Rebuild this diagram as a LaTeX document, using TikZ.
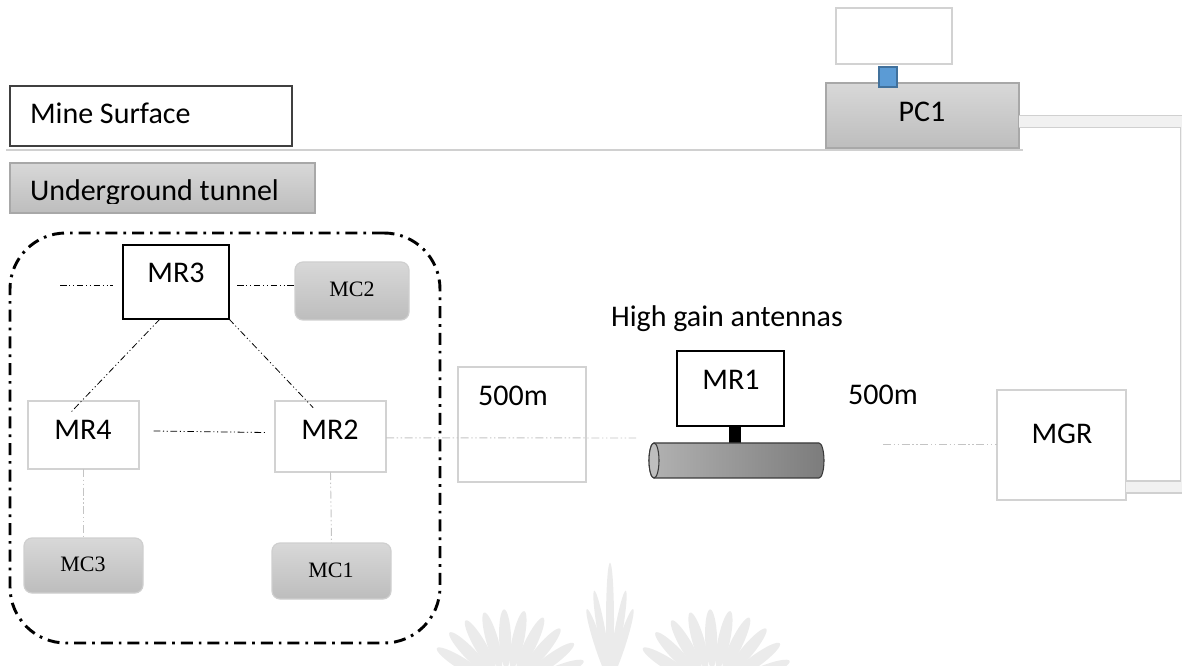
\documentclass[tikz,border=0pt]{standalone}
\usepackage{fontspec}
\setmainfont{Carlito}
\newfontfamily\mcfont{Liberation Serif}
\definecolor{boxgray}{HTML}{D2D2D2}
\definecolor{shadetop}{HTML}{D8D8D8}
\definecolor{shadebot}{HTML}{BDBDBD}
\definecolor{shadeedge}{HTML}{A8A8A8}
\definecolor{mcedge}{HTML}{CFCFCF}
\definecolor{linkgray}{HTML}{C4C4C4}
\definecolor{rulegray}{HTML}{D0D0D0}
\definecolor{pipefill}{HTML}{F1F1F1}
\definecolor{plugfill}{HTML}{5B9BD5}
\definecolor{plugedge}{HTML}{41719C}
\definecolor{tubeleft}{HTML}{B2B2B2}
\definecolor{tuberight}{HTML}{7C7C7C}
\definecolor{tubeedge}{HTML}{3A3A3A}
\definecolor{markgray}{HTML}{EBEBEB}
\begin{document}
\begin{tikzpicture}[x=0.75pt,y=-0.75pt,
  font=\fontsize{22.5}{27}\selectfont,
  every node/.style={outer sep=0pt,inner sep=0pt},
  sz/.style 2 args={minimum width=#1*0.75pt,minimum height=#2*0.75pt},
  lightbox/.style={draw=boxgray,line width=1.5pt,fill=white},
  darkbox/.style={draw=black,line width=1.4pt,fill=white},
  shadebox/.style={draw=shadeedge,line width=0.9pt,top color=shadetop,bottom color=shadebot},
  mcbox/.style={draw=mcedge,line width=0.9pt,top color=shadetop,bottom color=shadebot,rounded corners=6pt},
  lbl/.style={anchor=base},
  mclbl/.style={anchor=base,font=\mcfont\fontsize{16.5}{19}\selectfont},
  link/.style={draw=black,line width=0.6pt,dash pattern=on 5pt off 2pt on 0.8pt off 2pt on 0.8pt off 2pt},
  glink/.style={draw=linkgray,line width=0.7pt,dash pattern=on 6pt off 2pt on 1pt off 2pt on 1pt off 2pt},
  zone/.style={draw=black,line width=2.2pt,dash pattern=on 9pt off 4.5pt on 2pt off 4.5pt,rounded corners=42pt},
  pipe/.style={draw=rulegray,line width=0.9pt,double=pipefill,double distance=8pt}
]
\useasboundingbox (0,0) rectangle (1182,666);

% faint emblem at the foot of the page
\begin{scope}
  \clip (0,0) rectangle (1182,666);
  \foreach \a in {22,36,...,158}
    \fill[markgray,shift={(507,692)},rotate=\a] (40pt,0) ellipse (22pt and 4.5pt);
  \foreach \a in {22,36,...,158}
    \fill[markgray,shift={(713,692)},rotate=\a] (40pt,0) ellipse (22pt and 4.5pt);
  \fill[markgray,shift={(610,680)},rotate=90] (44pt,0) ellipse (44pt and 3pt);
  \foreach \a/\r in {80/34,100/34,72/28,108/28}
    \fill[markgray,shift={(610,680)},rotate=\a] (\r pt,0) ellipse (\r pt and 3pt);
\end{scope}

% surface / underground labels
\node[draw=black!75,line width=0.8pt,fill=white,sz={282}{60}] (surf) at (151,116) {};
\node[lbl,anchor=base west] (surft) at (30,124) {Mine Surface};
\draw[rulegray,line width=0.8pt] (6,150) -- (1023,150);
\node[shadebox,sz={305}{50}] (tunnel) at (162.5,188) {};
\begin{scope}
  \clip (10,163) rectangle (315,203.5);
  \node[lbl,anchor=base west] (tunnelt) at (30,201) {Underground tunnel};
\end{scope}

% control room on the surface
\node[lightbox,sz={116}{56}] (screen) at (894,36) {};
\node[shadebox,sz={193}{65}] (PC1) at (922.5,115.5) {};
\node[lbl] (PC1t) at (922,122) {PC1};
\node[draw=plugedge,line width=1pt,fill=plugfill,sz={18}{20}] (plug) at (888,77) {};

% cable from PC1 down to the gateway
\node[lightbox,sz={129}{110}] (MGR) at (1061.5,445) {};
\node[lbl] (MGRt) at (1062,444) {MGR};
\draw[pipe] ([yshift=-4.5pt]PC1.east) -- (1186.5,121.5) -- (1186.5,487) -- ([yshift=-31.5pt]MGR.east);

% mesh cluster
\node[zone,sz={430}{410}] (zone) at (225,438) {};
\node[darkbox,sz={106}{74}] (MR3) at (176,282) {};
\node[lbl] (MR3t) at (176,283) {MR3};
\node[mcbox,sz={114}{58}] (MC2) at (352,291) {};
\node[mclbl] (MC2t) at (352,297) {MC2};
\node[lightbox,sz={111}{68}] (MR4) at (83.5,435) {};
\node[lbl] (MR4t) at (83,440) {MR4};
\node[lightbox,sz={111}{71}] (MR2) at (330.5,436.5) {};
\node[lbl] (MR2t) at (330,440) {MR2};
\node[mcbox,sz={119}{55}] (MC3) at (83.5,565.5) {};
\node[mclbl] (MC3t) at (83,571) {MC3};
\node[mcbox,sz={119}{56}] (MC1) at (331.5,571) {};
\node[mclbl] (MC1t) at (331,577) {MC1};

\coordinate (w3) at (60,285);
\draw[link,shorten >=7.5pt] (w3) -- (w3 -| MR3.west);
\draw[link,shorten <=6pt] (MR3.east |- w3) -- (MC2.west |- w3);
\draw[link] ([xshift=-12pt]MR3.south) -- ([shift={(-10pt,-9pt)}]MR4.north);
\draw[link] (MR3.south east) -- ([shift={(-13pt,-5pt)}]MR2.north);
\draw[link] ([shift={(11pt,3pt)}]MR4.east) -- ([shift={(-7pt,3pt)}]MR2.west);
\draw[glink] (MR4.south) -- (MC3.north);
\draw[glink] (MR2.south) -- (MC1.north);

% first hop
\node[lightbox,sz={128}{115}] (hop) at (522,424.5) {};
\node[lbl] (hopt) at (513,406) {500m};
\coordinate (e2) at (636,438);
\draw[glink] ([yshift=-1pt]MR2.east) -- (e2);

% relay on the high gain antenna
\node[lbl] (antt) at (727,327) {High gain antennas};
\node[darkbox,sz={107}{75}] (MR1) at (730.5,388.5) {};
\node[lbl] (MR1t) at (731,390) {MR1};
\fill[black] (729,426) rectangle (741,444);
\draw[tubeedge,line width=0.8pt,left color=tubeleft,right color=tuberight]
  (654,443) -- (819,443) arc (90:-90:3.75pt and 13.125pt) -- (654,478) arc (270:90:3.75pt and 13.125pt) -- cycle;
\draw[tubeedge,line width=0.8pt,fill=tubeleft!85!white] (654,460.5) ellipse (3.75pt and 13.125pt);

\node[lbl] (hop2t) at (883,405) {500m};
\coordinate (e1) at (883,444);
\draw[glink] (e1) -- (e1 -| MGR.west);
\end{tikzpicture}
\end{document}
